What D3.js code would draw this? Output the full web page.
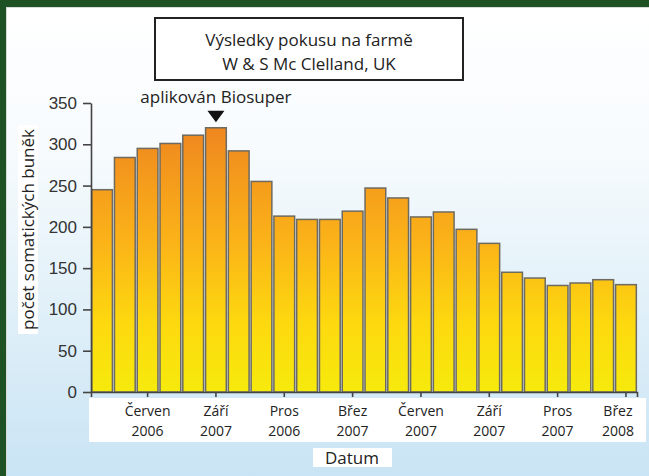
<!DOCTYPE html>
<html lang="cs">
<head>
<meta charset="utf-8">
<title>Výsledky pokusu na farmě</title>
<script src="https://d3js.org/d3.v7.min.js"></script>
<style>
  body { margin: 0; }
  svg { display: block; font-family: "Open Sans", sans-serif; }
  .tick text { font-size: 17px; fill: #333; }
</style>
</head>
<body>
<svg width="649" height="476"></svg>
<script>
// data
const cellCounts = [245, 284, 295, 301, 311, 320, 292, 255, 213, 209, 209, 219,
                    247, 235, 212, 218, 197, 180, 145, 138, 129, 132, 136, 130];
const tickIndex = [2, 5, 8, 11, 14, 17, 20, 23];
const tickMonths = ["Červen", "Září", "Pros", "Břez", "Červen", "Září", "Pros", "Břez"];
const tickYears = ["2006", "2007", "2006", "2007", "2007", "2007", "2007", "2008"];
const yTicks = [0, 50, 100, 150, 200, 250, 300, 350];
const markerIndex = 5;

const svg = d3.select("svg");
const defs = svg.append("defs");

// background gradient
const bg = defs.append("linearGradient").attr("id", "bg")
  .attr("x1", 0).attr("y1", 0).attr("x2", 0).attr("y2", 1);
bg.append("stop").attr("offset", "0").attr("stop-color", "#ffffff");
bg.append("stop").attr("offset", "0.3").attr("stop-color", "#f7fbfd");
bg.append("stop").attr("offset", "1").attr("stop-color", "#c9e4f4");

svg.append("rect").attr("width", 649).attr("height", 476).attr("fill", "#1e5123");
svg.append("rect").attr("x", 6).attr("y", 7).attr("width", 643).attr("height", 469)
  .attr("fill", "#d8dcd8");
svg.append("rect").attr("x", 7).attr("y", 8).attr("width", 642).attr("height", 468)
  .attr("fill", "url(#bg)");

const x = d3.scaleBand()
  .domain(d3.range(cellCounts.length))
  .range([91, 637])
  .paddingInner(0.09)
  .paddingOuter(0.03);

const y = d3.scaleLinear().domain([0, 350]).range([392, 103]);

// bar gradient, shared over the plot height
const bar = defs.append("linearGradient").attr("id", "bar")
  .attr("gradientUnits", "userSpaceOnUse")
  .attr("x1", 0).attr("y1", y(330)).attr("x2", 0).attr("y2", y(0));
bar.append("stop").attr("offset", "0").attr("stop-color", "#ee8420");
bar.append("stop").attr("offset", "0.45").attr("stop-color", "#fbb318");
bar.append("stop").attr("offset", "0.75").attr("stop-color", "#fdd90f");
bar.append("stop").attr("offset", "1").attr("stop-color", "#f6ea0c");

// title box
svg.append("rect").attr("x", 155).attr("y", 18).attr("width", 308).attr("height", 62)
  .attr("fill", "#fff").attr("stroke", "#222").attr("stroke-width", 2);
svg.append("text").attr("x", 309).attr("y", 45.5).attr("text-anchor", "middle")
  .attr("font-size", 17).attr("fill", "#222").text("Výsledky pokusu na farmě");
svg.append("text").attr("x", 309).attr("y", 69.5).attr("text-anchor", "middle")
  .attr("font-size", 17).attr("fill", "#222").text("W & S Mc Clelland, UK");

// bars
svg.append("g").selectAll("rect")
  .data(cellCounts)
  .join("rect")
  .attr("x", (d, i) => x(i))
  .attr("y", d => y(d))
  .attr("width", x.bandwidth())
  .attr("height", d => y(0) - y(d))
  .attr("fill", "url(#bar)")
  .attr("stroke", "#6e6a60")
  .attr("stroke-width", 1.5);

// y axis
const yAxis = svg.append("g").attr("transform", "translate(91,0)")
  .call(d3.axisLeft(y).tickValues(yTicks).tickSize(8).tickSizeOuter(0).tickPadding(6));
yAxis.selectAll("path, line").attr("stroke", "#444").attr("stroke-width", 1.6);

// x label box
svg.append("rect").attr("x", 89).attr("y", 398).attr("width", 557).attr("height", 44)
  .attr("fill", "#fff");

// x axis
const xAxis = svg.append("g").attr("transform", "translate(0,392)")
  .call(d3.axisBottom(x).tickValues(tickIndex).tickFormat("").tickSize(5).tickSizeOuter(5));
xAxis.selectAll("path, line").attr("stroke", "#444").attr("stroke-width", 1.6);

const labelX = (d, i) => x(d) + x.bandwidth() / 2 - (i === tickIndex.length - 1 ? 8 : 0);
const labels = svg.append("g").selectAll("text")
  .data(tickIndex)
  .join("text")
  .attr("text-anchor", "middle")
  .attr("font-size", 14)
  .attr("fill", "#222");
labels.append("tspan").attr("x", labelX).attr("y", 416)
  .text((d, i) => tickMonths[i]);
labels.append("tspan").attr("x", labelX).attr("y", 436)
  .text((d, i) => tickYears[i]);

// axis titles
svg.append("rect").attr("x", 313).attr("y", 448).attr("width", 79).attr("height", 19)
  .attr("fill", "#fff");
svg.append("text").attr("x", 352).attr("y", 464).attr("text-anchor", "middle")
  .attr("font-size", 17).attr("fill", "#222").text("Datum");

svg.append("rect").attr("x", 18).attr("y", 125).attr("width", 20).attr("height", 209)
  .attr("fill", "#fff");
svg.append("text").attr("transform", "translate(33.5,229.5) rotate(-90)")
  .attr("text-anchor", "middle").attr("font-size", 17).attr("fill", "#222")
  .text("počet somatických buněk");

// marker
const mx = x(markerIndex) + x.bandwidth() / 2;
const my = y(cellCounts[markerIndex]);
svg.append("path")
  .attr("d", `M${mx - 8.5},${my - 17}h17l-8.5,11.5z`)
  .attr("fill", "#111");
svg.append("text").attr("x", mx).attr("y", my - 25)
  .attr("text-anchor", "middle").attr("font-size", 17).attr("fill", "#222")
  .text("aplikován Biosuper");
</script>
</body>
</html>
